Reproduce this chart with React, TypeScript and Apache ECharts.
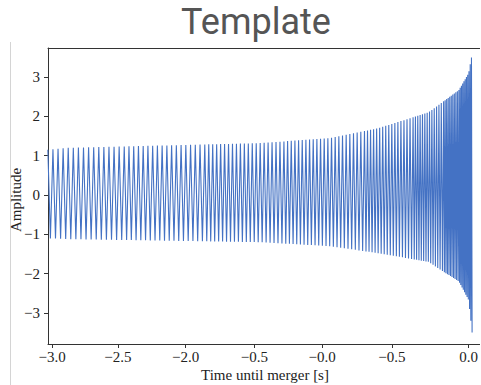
import React, { useEffect, useRef } from "react";
import * as echarts from "echarts";

// Tick positions (data units) and the labels printed under them
const xTickValues = [-3.0, -2.526, -2.038, -1.543, -1.055, -0.552, 0.0];
const xTickLabels = ["−3.0", "−2.5", "−2.0", "−0.5", "−0.0", "−0.5", "0.0"];
const yTickValues = [-3, -2, -1, 0, 1, 2, 3];
const yTickLabels = ["−3", "−2", "−1", "0", "1", "2", "3"];

// Upper / lower envelope of the waveform
const upperEnvTimes = [-3.03, -2.9, -1.5, -1.0, -0.65, -0.29, -0.07, 0.0, 0.02, 0.03];
const upperEnvValues = [1.15, 1.2, 1.32, 1.45, 1.7, 2.1, 2.67, 3.1, 3.5, 3.5];
const lowerEnvTimes = [-3.03, -2.9, -1.5, -1.0, -0.65, -0.29, -0.07, 0.0, 0.025, 0.03];
const lowerEnvValues = [-1.1, -1.12, -1.2, -1.3, -1.48, -1.7, -2.2, -2.67, -3.5, -3.5];

// Number of oscillation cycles counted in each stretch of time
const spanBounds = [-3.03, -2.48, -1.9, -1.33, -0.75, -0.4, -0.18, -0.07, 0.025];
const cyclesPerSpan = [15, 17, 20, 22, 16, 13, 10, 10.5];

function lookup(ts: number[], vs: number[], t: number): number {
  if (t <= ts[0]) return vs[0];
  for (let i = 1; i < ts.length; i++) {
    if (t <= ts[i]) {
      const f = (t - ts[i - 1]) / (ts[i] - ts[i - 1]);
      return vs[i - 1] + f * (vs[i] - vs[i - 1]);
    }
  }
  return vs[vs.length - 1];
}

function buildWave(): number[][] {
  const pts: number[][] = [];
  let sign = 1;
  for (let i = 0; i < cyclesPerSpan.length; i++) {
    const halves = Math.round(cyclesPerSpan[i] * 2);
    const dt = (spanBounds[i + 1] - spanBounds[i]) / halves;
    for (let k = 0; k < halves; k++) {
      const t = spanBounds[i] + k * dt;
      pts.push([t, sign > 0 ? lookup(upperEnvTimes, upperEnvValues, t) : lookup(lowerEnvTimes, lowerEnvValues, t)]);
      sign = -sign;
    }
  }
  const tEnd = spanBounds[spanBounds.length - 1];
  pts.push([tEnd, sign > 0 ? lookup(upperEnvTimes, upperEnvValues, tEnd) : lookup(lowerEnvTimes, lowerEnvValues, tEnd)]);
  return pts;
}

const serif = "'Liberation Serif', 'DejaVu Serif', serif";

export default function App() {
  const ref = useRef<HTMLDivElement>(null);
  useEffect(() => {
    if (!ref.current) return;
    const chart = echarts.init(ref.current, undefined, { renderer: "svg" });
    const nearestLabel = (v: number, vals: number[], labels: string[]) => {
      let best = 0;
      for (let i = 1; i < vals.length; i++) if (Math.abs(vals[i] - v) < Math.abs(vals[best] - v)) best = i;
      return labels[best];
    };
    chart.setOption({
      animation: false,
      backgroundColor: "#ffffff",
      grid: { left: 48, right: 0, top: 48, bottom: 41, show: false },
      xAxis: [
        {
          type: "value",
          min: -3.029,
          max: 0.079,
          position: "bottom",
          axisLine: { show: true, onZero: false, lineStyle: { color: "#333", width: 1 } },
          axisTick: { show: true, customValues: xTickValues, length: 4, lineStyle: { color: "#333" } },
          axisLabel: {
            customValues: xTickValues,
            formatter: (v: number) => nearestLabel(v, xTickValues, xTickLabels),
            fontFamily: serif,
            fontSize: 15,
            color: "#222",
            margin: 5,
          },
          splitLine: { show: false },
        },
        {
          type: "value",
          min: -3.029,
          max: 0.079,
          position: "top",
          axisLine: { show: true, onZero: false, lineStyle: { color: "#333", width: 1 } },
          axisTick: { show: false },
          axisLabel: { show: false },
          splitLine: { show: false },
        },
      ],
      yAxis: {
        type: "value",
        min: -3.79,
        max: 3.74,
        axisLine: { show: true, onZero: false, lineStyle: { color: "#333", width: 1 } },
        axisTick: { show: true, customValues: yTickValues, length: 4, lineStyle: { color: "#333" } },
        axisLabel: {
          customValues: yTickValues,
          formatter: (v: number) => nearestLabel(v, yTickValues, yTickLabels),
          fontFamily: serif,
          fontSize: 15,
          color: "#222",
          margin: 8,
        },
        splitLine: { show: false },
      },
      series: [
        {
          type: "line",
          data: buildWave(),
          showSymbol: false,
          clip: true,
          lineStyle: { color: "#4472c4", width: 1.1 },
          silent: true,
        },
      ],
      graphic: [
        {
          type: "line",
          shape: { x1: 10.5, y1: 42, x2: 10.5, y2: 385 },
          style: { stroke: "#d4d4d4", lineWidth: 1 },
        },
        {
          type: "text",
          x: 256,
          y: 22,
          style: {
            text: "Template",
            font: "36px Roboto, 'Noto Sans', sans-serif",
            fill: "#555",
            textAlign: "center",
            textVerticalAlign: "middle",
          },
        },
        {
          type: "text",
          x: 16,
          y: 200,
          rotation: Math.PI / 2,
          style: {
            text: "Amplitude",
            font: `15px ${serif}`,
            fill: "#222",
            textAlign: "center",
            textVerticalAlign: "middle",
          },
        },
        {
          type: "text",
          x: 265,
          y: 375,
          style: {
            text: "Time until merger [s]",
            font: `15px ${serif}`,
            fill: "#222",
            textAlign: "center",
            textVerticalAlign: "middle",
          },
        },
      ],
    });
    return () => chart.dispose();
  }, []);
  return (
    <div
      ref={ref}
      style={{ position: "fixed", left: 0, top: 0, width: 481, height: 385, background: "#fff" }}
    />
  );
}
